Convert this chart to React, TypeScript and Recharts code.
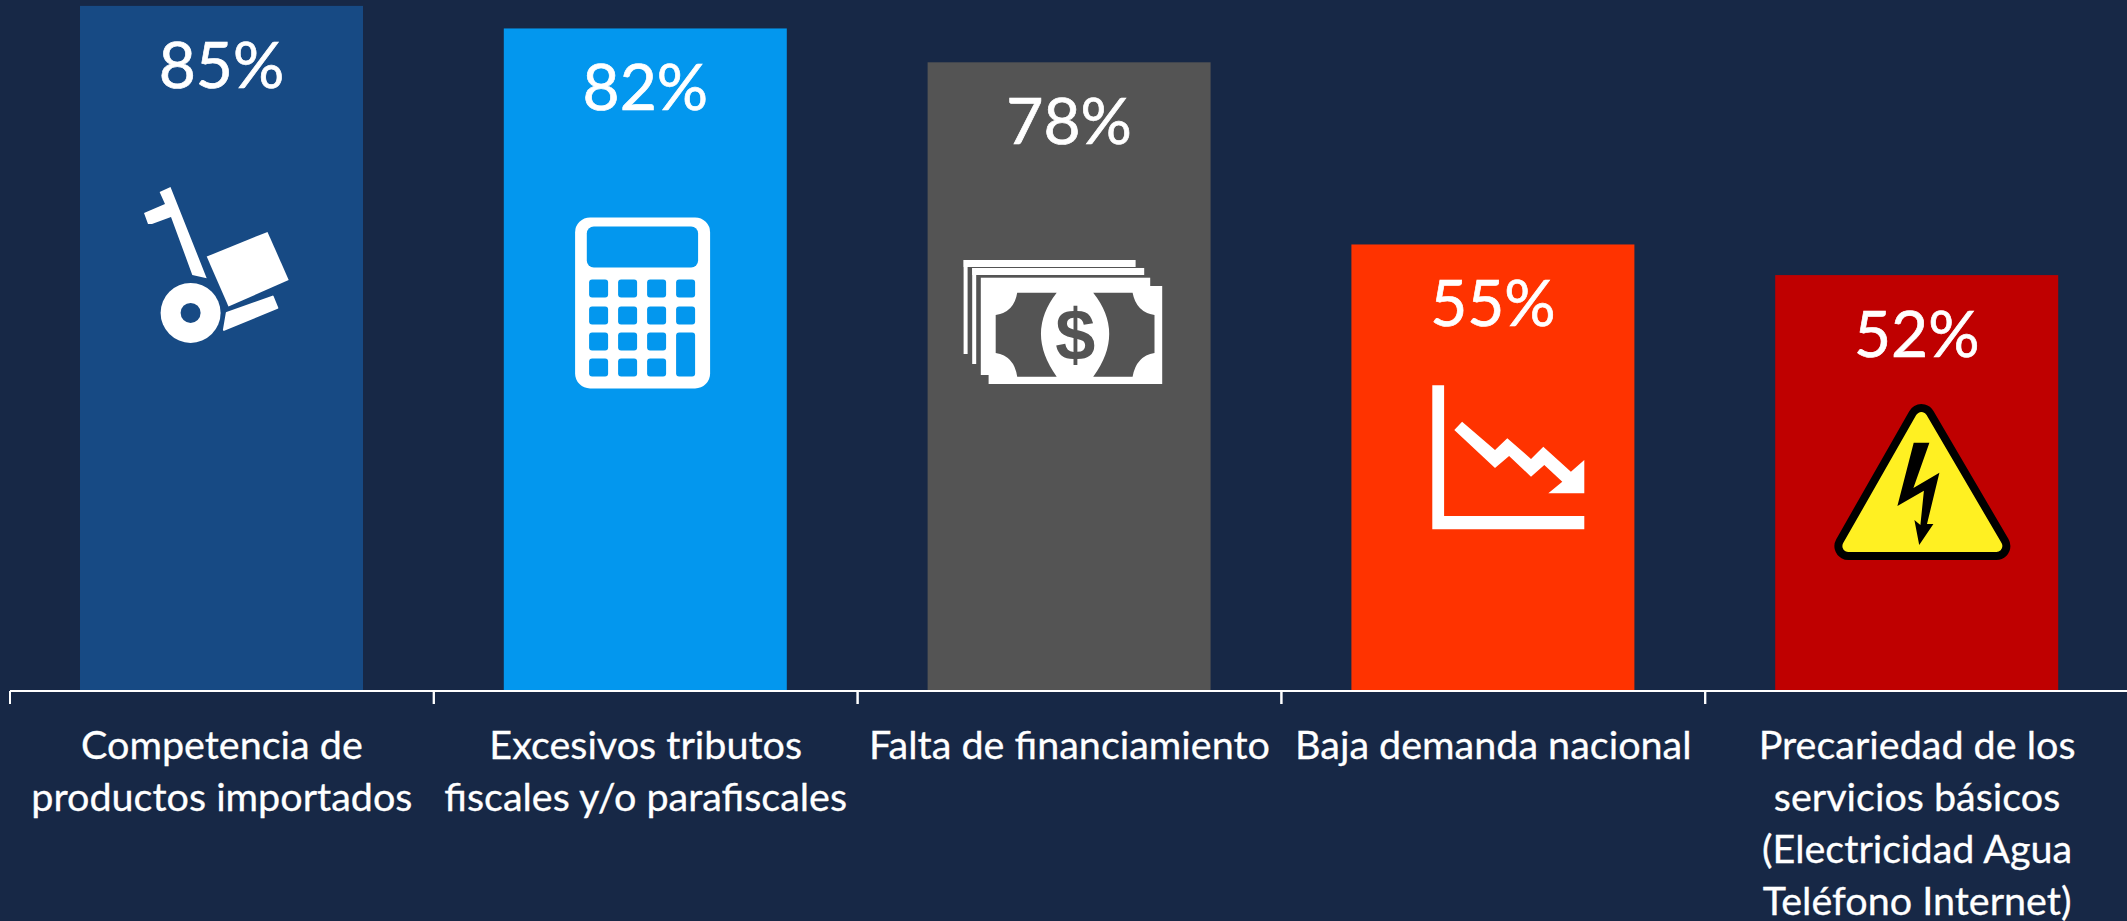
import React from "react";
import { BarChart, Bar, XAxis, YAxis, LabelList } from "recharts";

const categoryLines: string[][] = [
  ["Competencia de", "productos importados"],
  ["Excesivos tributos", "fiscales y/o parafiscales"],
  ["Falta de financiamiento"],
  ["Baja demanda nacional"],
  ["Precariedad de los", "servicios básicos", "(Electricidad Agua", "Teléfono Internet)"],
];
const values = [85, 82.2, 78, 55.4, 51.6];
const barColors = ["#174A84", "#0397EE", "#545454", "#FF3300", "#BF0000"];
const rows = categoryLines.map((lines, i) => ({ name: lines.join(" "), value: values[i] }));

const BG = "#172846";
const FONT = "Lato, 'Open Sans', sans-serif";
const W = 2129;
const H = 921;
const LEFT = 10;
const STEP = (W - LEFT) / 5;

function Dolly({ c }: { c: string }) {
  return (
    <g fill="#fff">
      <polygon points="170.5,187 159.6,192 165,204 144,213 148,224 152,224 171,217 192.3,275 206.7,278.3" />
      <polygon points="267.5,232 206.7,256.7 228.5,306.7 288.7,280" />
      <circle cx={190.6} cy={313} r={30} />
      <circle cx={190.6} cy={313} r={10} fill={c} />
      <polygon points="272.7,296.7 226.8,313 223.9,330 277.3,308" stroke="#fff" strokeWidth={2} strokeLinejoin="round" />
    </g>
  );
}

function Calculator({ c }: { c: string }) {
  const xs = [589, 618, 647, 676];
  const ys = [279, 306, 332, 358];
  const keys: React.ReactNode[] = [];
  ys.forEach((ky, r) =>
    xs.forEach((kx, col) => {
      if (col === 3 && r === 3) return;
      const tall = col === 3 && r === 2;
      keys.push(<rect key={`${r}-${col}`} x={kx} y={ky} width={19} height={tall ? 44 : 18} rx={3} fill={c} />);
    })
  );
  return (
    <g>
      <rect x={575} y={217} width={135} height={171} rx={15} fill="#fff" />
      <rect x={586.7} y={226} width={111.3} height={41} rx={7} fill={c} />
      {keys}
    </g>
  );
}

function Money({ c }: { c: string }) {
  return (
    <g>
      <rect x={963.4} y={260} width={172} height={7} fill="#fff" />
      <rect x={963.4} y={260} width={4} height={94} fill="#fff" />
      <rect x={972} y={268} width={172} height={7} fill="#fff" />
      <rect x={972} y={268} width={4} height={96} fill="#fff" />
      <rect x={980.6} y={277.7} width={169.4} height={97.3} fill="#fff" />
      <rect x={988.4} y={286} width={173.6} height={98} fill="#fff" />
      <path d="M1017 292.7 L1056.5 292.7 Q1025 333 1056.5 376.7 L1017 376.7 Q1014 356 995.5 353 L995.5 315 Q1014 312 1017 292.7 Z" fill={c} />
      <path d="M1132.4 292.7 L1093 292.7 Q1125 333 1093 376.7 L1132.4 376.7 Q1136 356 1154.3 353 L1154.3 315 Q1136 312 1132.4 292.7 Z" fill={c} />
      <text x={1075} y={360} textAnchor="middle" fontSize={72} fontWeight={700} fontFamily="'Liberation Sans', sans-serif" fill={c}>$</text>
    </g>
  );
}

function Decline() {
  return (
    <g fill="#fff">
      <polygon points="1432,385.3 1443.8,385.3 1443.8,516 1584,516 1584,529.3 1432,529.3" />
      <polygon points="1461.8,421.7 1454,430 1494.7,468 1508.8,456 1530.7,476.7 1544,465 1562,481.7 1548,493.3 1584,493.3 1584,460 1570.6,471.7 1543,446.7 1530.7,459 1507,438.3 1494.7,450" />
    </g>
  );
}

function Warning() {
  const tri = "1921,418 1848,546 1996,546";
  return (
    <g strokeLinejoin="round">
      <polygon points={tri} fill="#000" stroke="#000" strokeWidth={28} />
      <polygon points={tri} fill="#FFF022" stroke="#FFF022" strokeWidth={12} />
      <polygon points="1913.3,442.7 1929,442.7 1913,488 1939,472.7 1926.6,524 1933,524 1918.8,545 1914,520 1920,525 1923.5,490.7 1897,506" fill="#000" />
    </g>
  );
}

// Each icon is drawn in its own local frame and pinned to its bar's top-left corner.
const icons = [
  { origin: [80, 6], node: (c: string) => <Dolly c={c} /> },
  { origin: [503.7, 28], node: (c: string) => <Calculator c={c} /> },
  { origin: [927.4, 62.3], node: (c: string) => <Money c={c} /> },
  { origin: [1351.1, 244.5], node: () => <Decline /> },
  { origin: [1774.8, 275], node: () => <Warning /> },
];

function BarShape(props: any) {
  const { x, y, width, height, index } = props;
  const c = barColors[index];
  const icon = icons[index];
  return (
    <g>
      <rect x={x} y={y} width={width} height={height} fill={c} />
      <g transform={`translate(${x - icon.origin[0]},${y - icon.origin[1]})`}>{icon.node(c)}</g>
    </g>
  );
}

function BarLabel(props: any) {
  const { x, y, width, value } = props;
  return (
    <text
      x={x + width / 2}
      y={y + 82}
      textAnchor="middle"
      fill="#fff"
      stroke="#fff"
      strokeWidth={0.7}
      fontFamily={FONT}
      fontSize={64}
    >
      {`${Math.round(value)}%`}
    </text>
  );
}

function CategoryTick(props: any) {
  const { x, y, payload } = props;
  const lines = categoryLines[payload.index];
  return (
    <g>
      <line x1={x - STEP / 2} x2={x - STEP / 2} y1={y} y2={y + 13} stroke="#fff" strokeWidth={2} />
      <line x1={x + STEP / 2} x2={x + STEP / 2} y1={y} y2={y + 13} stroke="#fff" strokeWidth={2} />
      <text textAnchor="middle" fill="#fff" stroke="#fff" strokeWidth={0.3} fontFamily={FONT} fontSize={39.5}>
        {lines.map((l, i) => (
          <tspan key={i} x={x} y={y + 68 + i * 52}>{l}</tspan>
        ))}
      </text>
    </g>
  );
}

export default function App() {
  return (
    <div style={{ position: "absolute", left: 0, top: 0, width: 2127, height: H, overflow: "hidden", background: BG }}>
      <BarChart
        width={W}
        height={H}
        data={rows}
        margin={{ top: 0, right: 0, bottom: 0, left: LEFT }}
        barSize={283}
      >
        <XAxis
          dataKey="name"
          interval={0}
          height={H - 691}
          tickLine={false}
          tickSize={0}
          tickMargin={0}
          axisLine={{ stroke: "#fff", strokeWidth: 2 }}
          tick={<CategoryTick />}
        />
        <YAxis hide domain={[0, 85.73]} allowDataOverflow />
        <Bar dataKey="value" isAnimationActive={false} shape={<BarShape />}>
          <LabelList dataKey="value" content={<BarLabel />} />
        </Bar>
      </BarChart>
    </div>
  );
}
